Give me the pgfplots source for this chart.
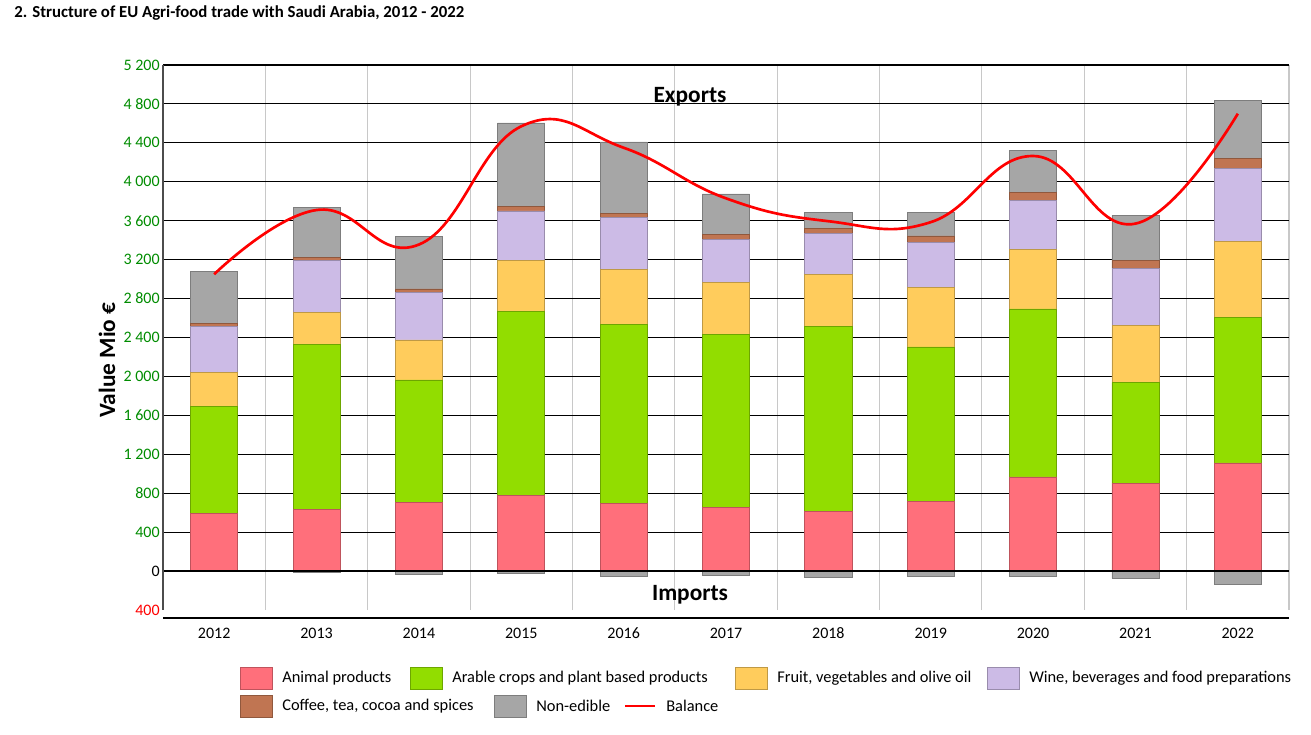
\documentclass[border=0pt]{standalone}
\usepackage{pgfplots}
\pgfplotsset{compat=1.18}
\usepackage{pgfplotstable}
\usepackage{fontspec}
\setmainfont{Carlito}
\definecolor{cRed}{RGB}{255,111,123}
\definecolor{cGreen}{RGB}{146,221,0}
\definecolor{cYellow}{RGB}{255,204,92}
\definecolor{cPurple}{RGB}{204,187,230}
\definecolor{cBrown}{RGB}{192,117,82}
\definecolor{cGray}{RGB}{166,166,166}
\definecolor{cGrid}{RGB}{200,200,200}
\definecolor{tickgreen}{RGB}{0,140,0}

\pgfplotstableread{
x anim arable fruit wine coffee nonedible imp balance
0 595 1094 351 474 31 537 -6 3050
1 637 1692 330 533 27 516 -15 3710
2 705 1259 412 489 34 540 -31 3355
3 781 1888 523 509 44 860 -24 4570
4 698 1837 564 536 42 732 -52 4350
5 650 1785 533 437 51 420 -45 3830
6 612 1902 533 420 51 165 -65 3595
7 715 1589 613 464 62 240 -52 3585
8 967 1726 609 505 80 439 -58 4265
9 898 1038 585 592 79 464 -76 3570
10 1111 1493 787 746 107 592 -134 4700
}\data

\begin{document}
\begin{tikzpicture}[x=0.75pt,y=0.75pt]
\useasboundingbox (0,0) rectangle (1311,-735);
\begin{axis}[
  at={(122.25pt,-457.5pt)}, anchor=south west,
  scale only axis, width=844.5pt, height=408.75pt,
  xmin=-0.5, xmax=10.5, ymin=-400, ymax=5200,
  ybar stacked, bar width=0.46,
  xtick={0,...,10},
  xticklabels={2012,2013,2014,2015,2016,2017,2018,2019,2020,2021,2022},
  ytick={0,400,...,5200},
  yticklabels={\textcolor{black}{0},400,800,1 200,1 600,2 000,2 400,2 800,3 200,3 600,4 000,4 400,4 800,5 200},
  extra y ticks={-400},
  extra y tick labels={\textcolor{red}{400}},
  extra y tick style={grid=none},
  ymajorgrids, major grid style={black, line width=0.8pt},
  minor xtick={0.5,1.5,...,10.5}, xminorgrids,
  minor grid style={cGrid, line width=0.8pt},
  major tick length=0pt, minor tick length=0pt,
  axis line style={draw=none},
  tick label style={font=\fontsize{12}{14}\selectfont},
  yticklabel style={text=tickgreen, xshift=1pt},
  xticklabel style={yshift=-10pt},
  clip=false,
]
\addplot[fill=cRed, draw=cRed!75!black, line width=0.5pt] table[x=x,y=anim]{\data};
\addplot[fill=cGreen, draw=cGreen!75!black, line width=0.5pt] table[x=x,y=arable]{\data};
\addplot[fill=cYellow, draw=cYellow!75!black, line width=0.5pt] table[x=x,y=fruit]{\data};
\addplot[fill=cPurple, draw=cPurple!75!black, line width=0.5pt] table[x=x,y=wine]{\data};
\addplot[fill=cBrown, draw=cBrown!75!black, line width=0.5pt] table[x=x,y=coffee]{\data};
\addplot[fill=cGray, draw=cGray!75!black, line width=0.5pt] table[x=x,y=nonedible]{\data};
\end{axis}
\begin{axis}[
  at={(122.25pt,-457.5pt)}, anchor=south west,
  scale only axis, width=844.5pt, height=408.75pt,
  xmin=-0.5, xmax=10.5, ymin=-400, ymax=5200,
  hide axis, clip=false,
]
\addplot[ybar, bar width=0.46, fill=cGray, draw=cGray!75!black, line width=0.5pt] table[x=x,y=imp]{\data};
\draw[black, line width=2pt] (axis cs:-0.5,0) -- (axis cs:10.5,0);
\addplot[smooth, tension=0.75, red, line width=2pt, mark=none] table[x=x,y=balance]{\data};
\end{axis}
% axis lines
\draw[black!70, line width=1.2pt] (163,-65) -- (163,-610);
\draw[black, line width=0.8pt] (163,-618) -- (1289,-618);
% texts
\node[anchor=base west, font=\bfseries\fontsize{12.6}{15}\selectfont, inner sep=0pt] at (14,-18) {2. Structure of EU Agri-food trade with Saudi Arabia, 2012 - 2022};
\node[rotate=90, font=\bfseries\fontsize{17.5}{21}\selectfont] at (107,-360) {Value Mio €};
\node[font=\bfseries\fontsize{17.5}{21}\selectfont] at (690,-97) {Exports};
\node[font=\bfseries\fontsize{17.5}{21}\selectfont] at (690,-595) {Imports};
% legend
\begin{scope}[every node/.style={anchor=west, font=\fontsize{12.3}{14}\selectfont, inner sep=0pt}]
\filldraw[fill=cRed, draw=cRed!75!black] (240,-667) rectangle (272,-689);
\node at (282,-678) {Animal products};
\filldraw[fill=cGreen, draw=cGreen!75!black] (410,-667) rectangle (442,-689);
\node at (452,-678) {Arable crops and plant based products};
\filldraw[fill=cYellow, draw=cYellow!75!black] (735,-667) rectangle (767,-689);
\node at (777,-678) {Fruit, vegetables and olive oil};
\filldraw[fill=cPurple, draw=cPurple!75!black] (987,-667) rectangle (1019,-689);
\node at (1029,-678) {Wine, beverages and food preparations};
\filldraw[fill=cBrown, draw=cBrown!75!black] (240,-695) rectangle (272,-717);
\node at (282,-706) {Coffee, tea, cocoa and spices};
\filldraw[fill=cGray, draw=cGray!75!black] (494,-695) rectangle (526,-717);
\node at (536,-706) {Non-edible};
\draw[red, line width=2pt] (625,-706) -- (655,-706);
\node at (666,-706) {Balance};
\end{scope}
\end{tikzpicture}
\end{document}
